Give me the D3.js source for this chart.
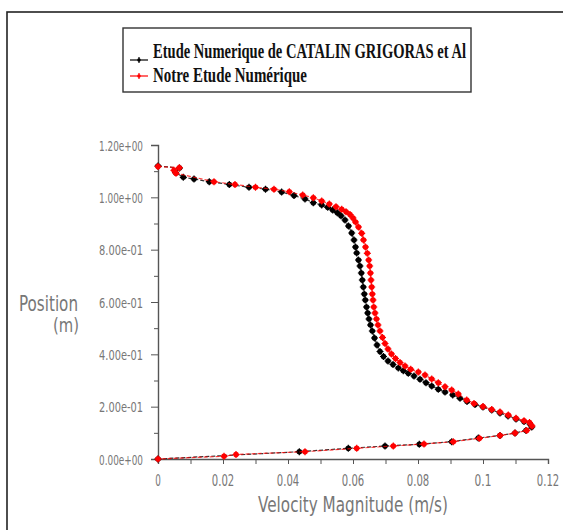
<!DOCTYPE html>
<html><head><meta charset="utf-8">
<script src="https://cdn.jsdelivr.net/npm/d3@7"></script>
<style>body{margin:0;background:#fff}svg{display:block}</style>
</head><body>
<script>
// Reference series (CATALIN GRIGORAS et Al): velocity (m/s), position (m)
const refVelocity = [0,0.00662,0.00538,0.00778,0.01108,0.01578,0.02194,0.0280,0.03308,0.03803,0.04185,0.04523,0.04779,0.05037,0.05222,0.05375,0.05517,0.05631,0.05754,0.05862,0.0596,0.06031,0.06077,0.06114,0.06169,0.06215,0.06256,0.06286,0.06317,0.06348,0.06379,0.06416,0.06452,0.06492,0.06539,0.06594,0.06662,0.06739,0.06831,0.06939,0.07077,0.07231,0.07394,0.07548,0.07702,0.07877,0.08062,0.08246,0.08422,0.08625,0.08831,0.09068,0.09293,0.09508,0.09754,0.1000,0.10268,0.10523,0.1077,0.11016,0.11262,0.11446,0.11499,0.11323,0.10985,0.10523,0.09856,0.09037,0.0804,0.06985,0.05856,0.04348,0];
const refPosition = [1.1198,1.1121,1.0949,1.0766,1.0701,1.0598,1.0491,1.0384,1.0311,1.0204,1.0066,0.9936,0.9795,0.9707,0.9619,0.9516,0.9413,0.9294,0.9134,0.8905,0.8637,0.8370,0.8102,0.7873,0.7605,0.7376,0.7108,0.6841,0.6573,0.6306,0.6077,0.5809,0.5580,0.5350,0.5121,0.4892,0.4624,0.4357,0.4108,0.3917,0.3745,0.3612,0.3478,0.3375,0.3275,0.3172,0.3046,0.2916,0.2790,0.2664,0.2561,0.2446,0.2320,0.2197,0.2083,0.1987,0.1873,0.1758,0.1643,0.1529,0.1433,0.1338,0.1223,0.1089,0.0994,0.0898,0.0803,0.0661,0.0562,0.0497,0.0409,0.0279,0];
// Our series (Notre Etude Numérique)
const ourVelocity = [0,0.00655,0.00492,0.00554,0.01723,0.02369,0.0300,0.03569,0.0404,0.04452,0.04779,0.05037,0.05271,0.05477,0.05652,0.05785,0.05908,0.0600,0.06077,0.06169,0.06268,0.06323,0.06385,0.0644,0.06483,0.06514,0.06536,0.06554,0.06576,0.06594,0.06616,0.0664,0.06677,0.06723,0.06769,0.06831,0.06908,0.06985,0.07077,0.07185,0.07308,0.07446,0.0760,0.07776,0.0801,0.08216,0.08422,0.08625,0.08831,0.09037,0.0924,0.09499,0.09723,0.1000,0.10268,0.10523,0.10779,0.11016,0.11262,0.11431,0.11508,0.11345,0.10985,0.10523,0.09892,0.09086,0.08185,0.0724,0.06114,0.04523,0.0240,0.02031,0];
const ourPosition = [1.1178,1.1133,1.1033,1.0919,1.0598,1.0491,1.0384,1.0311,1.0212,1.0089,0.9982,0.9860,0.9745,0.9642,0.9543,0.9451,0.9344,0.9210,0.9057,0.8866,0.8626,0.8370,0.8102,0.7861,0.7605,0.7376,0.7108,0.6841,0.6573,0.6306,0.6077,0.5809,0.5580,0.5350,0.5121,0.4892,0.4643,0.4414,0.4204,0.4013,0.3841,0.3688,0.3554,0.3428,0.3325,0.3210,0.3057,0.2916,0.2763,0.2637,0.2484,0.2255,0.2121,0.2006,0.1892,0.1796,0.1682,0.1555,0.1464,0.1395,0.1261,0.1089,0.0994,0.0898,0.0791,0.0661,0.0573,0.0497,0.0409,0.0279,0.0172,0.0103,0];

const xTickValues = [0,0.02,0.04,0.06,0.08,0.1,0.12];
const xTickLabels = ["0","0.02","0.04","0.06","0.08","0.1","0.12"];
const yTickValues = [0,0.2,0.4,0.6,0.8,1.0,1.2];
const yTickLabels = ["0.00e+00","2.00e-01","4.00e-01","6.00e-01","8.00e-01","1.00e+00","1.20e+00"];
const seriesNames = ["Etude Numerique de CATALIN GRIGORAS et Al","Notre Etude Numérique"];
const seriesColors = ["#000000","#ff0000"];

const W = 563, H = 530;
const svg = d3.select("body").append("svg").attr("width", W).attr("height", H);

// outer frame
svg.append("rect").attr("x",7).attr("y",12).attr("width",W).attr("height",H)
  .attr("fill","none").attr("stroke","#222").attr("stroke-width",1.6);

const x = d3.scaleLinear().domain([0,0.12]).range([158,548]);
const y = d3.scaleLinear().domain([0,1.2]).range([459,145]);
const axisColor = "#555";
const textColor = "#777";

// x axis
const xa = svg.append("g").attr("transform","translate(0,459)")
  .call(d3.axisBottom(x).tickValues(d3.range(0,0.1201,0.01)).tickSize(5).tickFormat(""));
xa.select(".domain").attr("stroke",axisColor).attr("stroke-width",1.4);
xa.selectAll(".tick line").attr("stroke",axisColor);
svg.selectAll(".xlab").data(xTickValues).enter().append("text")
  .attr("x",d=>x(d)).attr("y",486).attr("text-anchor","middle")
  .attr("font-family","DejaVu Sans").attr("font-size",15).attr("fill",textColor)
  .attr("textLength",(d,i)=>xTickLabels[i].length*5.6).attr("lengthAdjust","spacingAndGlyphs")
  .text((d,i)=>xTickLabels[i]);

// y axis
const ya = svg.append("g").attr("transform","translate(158,0)")
  .call(d3.axisLeft(y).tickValues(yTickValues).tickSize(7).tickFormat(""));
ya.select(".domain").attr("stroke",axisColor).attr("stroke-width",1.4);
ya.selectAll(".tick line").attr("stroke",axisColor);
const ym = svg.append("g").attr("transform","translate(158,0)")
  .call(d3.axisLeft(y).tickValues(d3.range(0.1,1.2,0.2)).tickSize(4).tickFormat(""));
ym.select(".domain").remove();
ym.selectAll(".tick line").attr("stroke",axisColor);
svg.selectAll(".ylab").data(yTickValues).enter().append("text")
  .attr("x",143).attr("y",d=>y(d)+5.5).attr("text-anchor","end")
  .attr("font-family","DejaVu Sans").attr("font-size",14.5).attr("fill",textColor)
  .attr("textLength",44).attr("lengthAdjust","spacingAndGlyphs")
  .text((d,i)=>yTickLabels[i]);

// axis titles
svg.append("text").attr("x",258).attr("y",512).attr("font-family","DejaVu Sans")
  .attr("font-size",22).attr("fill",textColor).attr("textLength",190).attr("lengthAdjust","spacingAndGlyphs")
  .text("Velocity Magnitude (m/s)");
svg.append("text").attr("x",19).attr("y",311).attr("font-family","DejaVu Sans")
  .attr("font-size",22).attr("fill",textColor).attr("textLength",59).attr("lengthAdjust","spacingAndGlyphs")
  .text("Position");
svg.append("text").attr("x",53).attr("y",332).attr("font-family","DejaVu Sans")
  .attr("font-size",20).attr("fill",textColor).attr("textLength",26).attr("lengthAdjust","spacingAndGlyphs")
  .text("(m)");

// series
const series = [
  refVelocity.map((v,i)=>({v, p: refPosition[i]})),
  ourVelocity.map((v,i)=>({v, p: ourPosition[i]}))
];
const line = d3.line().x(d=>x(d.v)).y(d=>y(d.p));
series.forEach((s,k)=>{
  const g = svg.append("g");
  g.append("path").datum(s).attr("d",line).attr("fill","none")
    .attr("stroke",seriesColors[k]).attr("stroke-width",1.2)
    .attr("stroke-dasharray","4,2").attr("opacity",k?0.75:0.8);
  g.selectAll("circle").data(s).enter().append("circle")
    .attr("cx",d=>x(d.v)).attr("cy",d=>y(d.p)).attr("r",2.8)
    .attr("fill",seriesColors[k]);
  g.selectAll("path.cross").data(s).enter().append("path").attr("class","cross")
    .attr("d",d=>`M${x(d.v)-3.5},${y(d.p)}h7M${x(d.v)},${y(d.p)-3.5}v7`)
    .attr("stroke",seriesColors[k]).attr("stroke-width",1.2);
});

// legend
svg.append("rect").attr("x",123).attr("y",28).attr("width",348).attr("height",64)
  .attr("fill","#fff").attr("stroke","#333").attr("stroke-width",1.4);
const legY = [60,76], legTxtY = [58,82], legLen = [313,154];
seriesNames.forEach((n,k)=>{
  svg.append("line").attr("x1",130).attr("x2",148).attr("y1",legY[k]).attr("y2",legY[k])
    .attr("stroke",seriesColors[k]).attr("stroke-width",1.2);
  svg.append("circle").attr("cx",139).attr("cy",legY[k]).attr("r",1.8).attr("fill",seriesColors[k]);
  svg.append("path").attr("d",`M139,${legY[k]-3}v6`).attr("stroke",seriesColors[k]).attr("stroke-width",1.2);
  svg.append("text").attr("x",153).attr("y",legTxtY[k]).attr("font-family","Liberation Serif")
    .attr("font-weight","bold").attr("font-size",21).attr("fill","#111")
    .attr("textLength",legLen[k]).attr("lengthAdjust","spacingAndGlyphs").text(n);
});
</script>
</body></html>
